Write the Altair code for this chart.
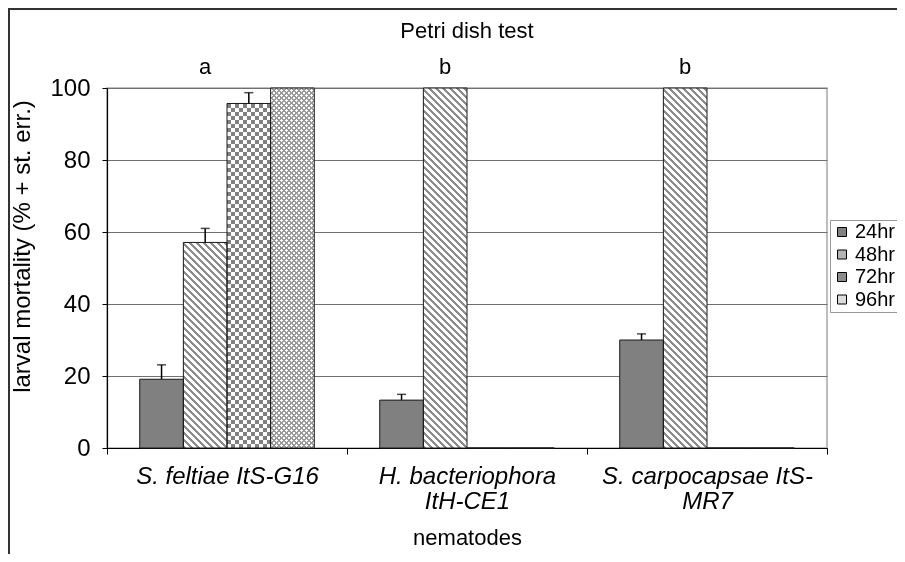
import json
import altair as alt
import pandas as pd

# ---------------- data ----------------
nematodes = ["S. feltiae ItS-G16", "H. bacteriophora ItH-CE1", "S. carpocapsae ItS-MR7"]
label_lines = [["S. feltiae ItS-G16"], ["H. bacteriophora", "ItH-CE1"], ["S. carpocapsae ItS-", "MR7"]]
times = ["24hr", "48hr", "72hr", "96hr"]
mortality_24 = [19.1, 13.3, 30.0]
mortality_48 = [57.1, 100.0, 100.0]
mortality_72 = [95.7, 0.0, 0.0]
mortality_96 = [100.0, 0.0, 0.0]
se_24 = [4.0, 1.6, 1.7]
se_48 = [3.9, 0.0, 0.0]
se_72 = [3.0, 0.0, 0.0]
se_96 = [0.0, 0.0, 0.0]
letters = ["a", "b", "b"]
y_ticks = [0, 20, 40, 60, 80, 100]

rows = []
for i, n in enumerate(nematodes):
    for t, vals, ses in zip(times, [mortality_24, mortality_48, mortality_72, mortality_96],
                            [se_24, se_48, se_72, se_96]):
        rows.append({"nematode": n, "time": t, "mortality": vals[i], "se": ses[i],
                     "upper": vals[i] + ses[i]})
df = pd.DataFrame(rows)
letters_df = pd.DataFrame({"nematode": nematodes, "letter": letters})

# ---------------- layout / style ----------------
FONT = "Liberation Sans"
PLOT_W, PLOT_H, Y_MAX = 720, 360, 100
PAD_OUT = 0.75
BAR_W = PLOT_W / len(nematodes) / (len(times) + 2 * PAD_OUT)


def stripes(length, period, width, fg, bg):
    stops, pos = [], 0.0
    while pos < length - 1e-9:
        a = pos / length
        b = min(pos + width, length) / length
        c = min(pos + period, length) / length
        stops += [{"offset": round(a, 5), "color": fg}, {"offset": round(b, 5), "color": fg},
                  {"offset": round(b, 5), "color": bg}, {"offset": round(c, 5), "color": bg}]
        pos += period
    return stops


def diag(w, h, period, width, fg, bg, direction):
    k = (w + h) / (w * w + h * h)
    if direction == "back":
        x1, y1, x2, y2 = 0, 1, k * w, 1 - k * h
    else:
        x1, y1, x2, y2 = 0, 0, k * w, k * h
    return {"gradient": "linear", "x1": x1, "y1": y1, "x2": x2, "y2": y2,
            "stops": stripes(w + h, period, width, fg, bg)}


expr = "datum.label"
for name, lines in zip(nematodes, label_lines):
    expr = f"datum.value == {json.dumps(name)} ? {json.dumps(lines)} : ({expr})"

x_enc = alt.X("nematode:N", sort=nematodes,
              scale=alt.Scale(paddingInner=0, paddingOuter=0),
              axis=alt.Axis(tickBand="extent", tickSize=6, labelFontSize=24,
                            labelFontStyle="italic", labelLineHeight=25, labelPadding=10,
                            labelExpr=expr, labelLimit=400, labelAngle=0, grid=False,
                            titleFontSize=22, titleX=PLOT_W / 2, titleY=89,
                            titleBaseline="middle", titleAlign="center"),
              title="nematodes")
xo_enc = alt.XOffset("time:N", sort=times,
                     scale=alt.Scale(paddingInner=0, paddingOuter=PAD_OUT))
y_scale = alt.Scale(domain=[0, Y_MAX], nice=False)
y_axis = alt.Axis(values=y_ticks, grid=True, gridColor="#707070", tickSize=5,
                  labelFontSize=24, labelPadding=12, titleFontSize=24, titleX=-85,
                  titleY=158, titleAngle=270, titleAlign="center", titleBaseline="middle")
Y_TITLE = "larval mortality (% + st. err.)"

base = alt.Chart(df).encode(
    x=x_enc, xOffset=xo_enc,
    y=alt.Y("mortality:Q", scale=y_scale, axis=y_axis, title=Y_TITLE),
)

layers = []
layers.append(base.mark_bar().encode(
    color=alt.Color("time:N", sort=times,
                    scale=alt.Scale(domain=times, range=["#808080", "#b4b4b4", "#8c8c8c", "#dcdcdc"]),
                    legend=alt.Legend(title=None))
))

for _, r in df.iterrows():
    if r["time"] == "24hr" or r["mortality"] <= 0:
        continue
    w = BAR_W
    h = r["mortality"] * PLOT_H / Y_MAX
    sel = base.transform_filter((alt.datum.nematode == r["nematode"]) & (alt.datum.time == r["time"]))
    if r["time"] == "48hr":
        layers.append(sel.mark_bar(fill=diag(w, h, 7, 3.5, "#8c8c8c", "#ffffff", "back")))
    elif r["time"] == "72hr":
        vg = {"gradient": "linear", "x1": 0, "y1": 0, "x2": 1, "y2": 0,
              "stops": stripes(w, 8, 4, "#000000", "#ffffff")}
        hg = {"gradient": "linear", "x1": 0, "y1": 1, "x2": 0, "y2": 0,
              "stops": stripes(h, 8, 4, "#ffffff", "#000000")}
        layers.append(sel.mark_bar(fill=vg))
        layers.append(sel.mark_bar(fill=hg, blend="difference"))
        layers.append(sel.mark_bar(fill="#ffffff", fillOpacity=0.5))
    elif r["time"] == "96hr":
        layers.append(sel.mark_bar(fill=diag(w, h, 5, 1.4, "#9a9a9a", "#ffffff", "back")))
        layers.append(sel.mark_bar(fill=diag(w, h, 5, 1.4, "#9a9a9a", "rgba(255,255,255,0)", "fwd")))

# outlines
layers.append(base.mark_bar(fillOpacity=0, stroke="#1a1a1a", strokeWidth=1))

# error bars (+ st. err.)
err = base.transform_filter(alt.datum.se > 0)
layers.append(err.mark_rule(color="#000000", strokeWidth=1.5).encode(
    y=alt.Y("mortality:Q", scale=y_scale, axis=y_axis, title=Y_TITLE), y2="upper:Q"))
layers.append(err.mark_tick(color="#000000", thickness=1.5, size=9).encode(
    y=alt.Y("upper:Q", scale=y_scale, axis=y_axis, title=Y_TITLE)))

# significance letters
layers.append(alt.Chart(letters_df).mark_text(fontSize=22, font=FONT, color="#000000").encode(
    x=x_enc, xOffset=alt.XOffsetDatum("48hr"),
    y=alt.YDatum(105.8, scale=y_scale, axis=y_axis, title=Y_TITLE),
    text="letter:N"))

# outer frame
layers.append(alt.Chart(alt.Data(values=[{}])).mark_rect(
    fill="transparent", stroke="#333333", strokeWidth=2).encode(
    x=alt.value(-98), x2=alt.value(900), y=alt.value(-79), y2=alt.value(700)))

chart = alt.layer(*layers).properties(
    width=PLOT_W, height=PLOT_H,
    title=alt.TitleParams("Petri dish test", fontSize=22, fontWeight="normal", font=FONT,
                          anchor="middle", offset=0, dy=45, baseline="middle",
                          color="#000000"),
    autosize=alt.AutoSizeParams(type="none"),
    padding={"left": 99, "top": 80, "right": 70, "bottom": 106},
).configure(font=FONT).configure_view(
    stroke="#a8a8a8", strokeWidth=1.5
).configure_axis(
    domainColor="#000000", tickColor="#000000", labelColor="#000000", titleColor="#000000",
    labelFont=FONT, titleFont=FONT, titleFontWeight="normal", domainWidth=1.2
).configure_legend(
    orient="none", legendX=723, legendY=132, labelFontSize=20, labelFont=FONT,
    labelColor="#000000", symbolType="square", symbolSize=81, symbolStrokeColor="#000000",
    symbolStrokeWidth=1, symbolOpacity=1, strokeColor="#999999", padding=2, rowPadding=2.5,
    labelOffset=3
)

chart.save("out.html", embed_options={"renderer": "svg", "actions": False})
